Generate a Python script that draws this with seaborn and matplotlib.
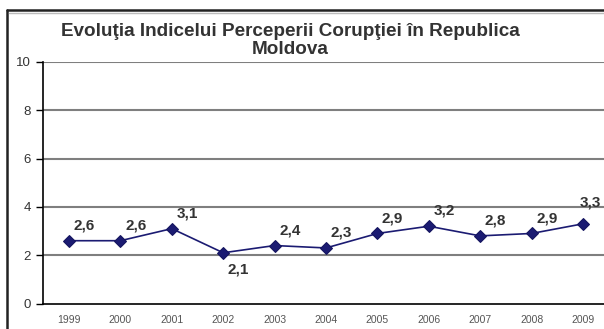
import matplotlib
matplotlib.use("Agg")
import matplotlib.pyplot as plt
from matplotlib.lines import Line2D
import seaborn as sns
import pandas as pd

# date: indicele perceperii corupţiei, Moldova
years = ["1999", "2000", "2001", "2002", "2003", "2004", "2005", "2006", "2007", "2008", "2009"]
scores = [2.6, 2.6, 3.1, 2.1, 2.4, 2.3, 2.9, 3.2, 2.8, 2.9, 3.3]
labels = ["2,6", "2,6", "3,1", "2,1", "2,4", "2,3", "2,9", "3,2", "2,8", "2,9", "3,3"]
y_ticks = [0, 2, 4, 6, 8, 10]

df = pd.DataFrame({"pos": range(len(years)), "score": scores})

sns.set_style("white")
plt.rcParams["font.family"] = ["Liberation Sans", "DejaVu Sans"]

fig = plt.figure(figsize=(6.04, 3.29), dpi=100)
ax = fig.add_axes([43.3 / 604, 25.5 / 329, 565.4 / 604, 241.5 / 329])
ax.patch.set_visible(False)

# linii orizontale ale grilei
for t in y_ticks[1:]:
    ax.axhline(t, color="#7f7f7f", lw=1.5, zorder=1)

sns.lineplot(data=df, x="pos", y="score", color="#1b1b72", lw=1.2,
             marker="D", markersize=6.5, markeredgecolor="#14145e", ax=ax, zorder=3)

# etichetele valorilor
for i, (v, lab) in enumerate(zip(scores, labels)):
    dx, dy = 11, 11
    if lab == "2,1":
        dy = -12
    if i == len(years) - 1:
        dx, dy = 5, 15
    ax.annotate(lab, (i, v), xytext=(dx, dy), textcoords="offset points",
                ha="center", va="center", fontsize=11, fontweight="bold", color="#333333")

ax.set_xlim(-0.5, len(years) - 0.5)
ax.set_ylim(0, 10)
ax.set_yticks(y_ticks)
ax.set_yticklabels([str(t) for t in y_ticks], fontsize=9.5, color="#333333")
# marcaje intre categorii, etichete pe centru
ax.set_xticks([i + 0.5 for i in range(-1, len(years))])
ax.set_xticklabels([])
ax.set_xticks(range(len(years)), minor=True)
ax.set_xticklabels(years, minor=True, fontsize=7.5, color="#555555")
ax.tick_params(axis="x", which="major", length=4, width=1, color="black", direction="out")
ax.tick_params(axis="x", which="minor", length=0, pad=8)
ax.tick_params(axis="y", length=5, width=1, color="black", direction="out", pad=4, left=True)
ax.set_xlabel("")
ax.set_ylabel("")
for s in ["top", "right"]:
    ax.spines[s].set_visible(False)
for s in ["left", "bottom"]:
    ax.spines[s].set_color("black")
    ax.spines[s].set_linewidth(1.2)

fig.text(290 / 604, 1 - 40.5 / 329, "Evoluţia Indicelui Perceperii Corupţiei în Republica\nMoldova",
         ha="center", va="center", multialignment="center", fontsize=13.6,
         fontweight="bold", color="#333333", linespacing=1.05)

# chenarul graficului (doar stanga si sus, restul e taiat)
x0 = 7 / 604
y0 = 1 - 9.5 / 329
fig.add_artist(Line2D([x0, x0], [-0.05, y0], transform=fig.transFigure, color="#222222", lw=1.8))
fig.add_artist(Line2D([x0, 1.05], [y0, y0], transform=fig.transFigure, color="#222222", lw=1.8))
fig.add_artist(Line2D([x0 + 2 / 604, 1.05], [y0 - 3 / 329, y0 - 3 / 329], transform=fig.transFigure,
                      color="#bbbbbb", lw=1))

fig.savefig("out.png", dpi=100, facecolor="white")
